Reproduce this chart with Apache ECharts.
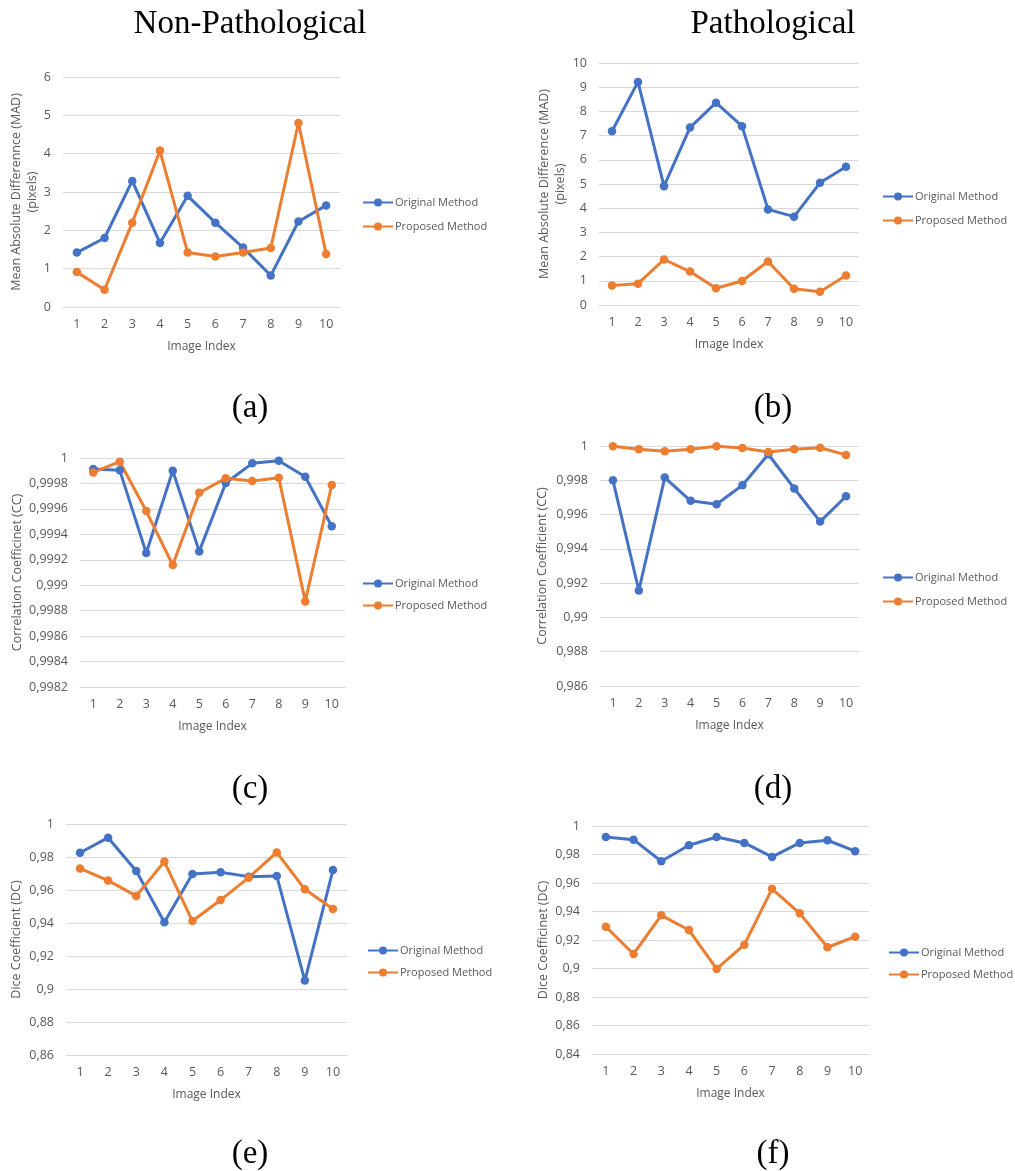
<!DOCTYPE html>
<html>
<head>
<meta charset="utf-8">
<script src="https://cdn.jsdelivr.net/npm/echarts@6/dist/echarts.min.js"></script>
<style>
html,body{margin:0;padding:0;background:#fff;}
#c{width:1015px;height:1171px;}
</style>
</head>
<body>
<div id="c"></div>
<script>
const categories = ['1','2','3','4','5','6','7','8','9','10'];
const seriesNames = ['Original Method', 'Proposed Method'];

// (a) Non-pathological MAD
const madNonOriginal = [1.42, 1.80, 3.29, 1.67, 2.90, 2.20, 1.55, 0.82, 2.23, 2.65];
const madNonProposed = [0.91, 0.45, 2.20, 4.08, 1.42, 1.32, 1.42, 1.54, 4.80, 1.38];
// (b) Pathological MAD
const madPathOriginal = [7.18, 9.22, 4.91, 7.33, 8.36, 7.39, 3.95, 3.65, 5.05, 5.71];
const madPathProposed = [0.81, 0.88, 1.88, 1.38, 0.69, 0.99, 1.80, 0.67, 0.55, 1.22];
// (c) Non-pathological CC
const ccNonOriginal = [0.999913, 0.999903, 0.999253, 0.999900, 0.999266, 0.999803, 0.999958, 0.999979, 0.999853, 0.999463];
const ccNonProposed = [0.999887, 0.999971, 0.999583, 0.999159, 0.999727, 0.999840, 0.999819, 0.999845, 0.998873, 0.999788];
// (d) Pathological CC
const ccPathOriginal = [0.99800, 0.99157, 0.99816, 0.99680, 0.99660, 0.99771, 0.99952, 0.99752, 0.99559, 0.99707];
const ccPathProposed = [0.99999, 0.99981, 0.99969, 0.99981, 0.99999, 0.99988, 0.99965, 0.99981, 0.99990, 0.99948];
// (e) Non-pathological DC
const dcNonOriginal = [0.9826, 0.9917, 0.9715, 0.9404, 0.9697, 0.9707, 0.9681, 0.9685, 0.9051, 0.9721];
const dcNonProposed = [0.9731, 0.9657, 0.9564, 0.9772, 0.9412, 0.9539, 0.9675, 0.9828, 0.9604, 0.9485];
// (f) Pathological DC
const dcPathOriginal = [0.9923, 0.9904, 0.9753, 0.9865, 0.9923, 0.9881, 0.9783, 0.9881, 0.9900, 0.9823];
const dcPathProposed = [0.9293, 0.9102, 0.9373, 0.9270, 0.8997, 0.9167, 0.9559, 0.9387, 0.9149, 0.9223];

const yAxisTitles = [
  'Mean Absolute Differennce (MAD)\n(pixels)',
  'Mean Absolute Difference (MAD)\n(pixels)',
  'Correlation Coefficinet (CC)',
  'Correlation Coefficient (CC)',
  'Dice Coefficient (DC)',
  'Dice Coefficinet (DC)'
];
const xAxisTitle = 'Image Index';
const columnTitles = ['Non-Pathological', 'Pathological'];
const panelLabels = ['(a)', '(b)', '(c)', '(d)', '(e)', '(f)'];

const panels = [
  {orig: madNonOriginal, prop: madNonProposed, min: 0, max: 6, interval: 1, dec: 0,
   grid: {left: 63, top: 77, width: 277, height: 230}, nameGap: 22, legend: {left: 362, top: 197, gap: 13}},
  {orig: madPathOriginal, prop: madPathProposed, min: 0, max: 10, interval: 1, dec: 0,
   grid: {left: 599, top: 63, width: 260, height: 242}, nameGap: 30, legend: {left: 882, top: 191, gap: 13}},
  {orig: ccNonOriginal, prop: ccNonProposed, min: 0.9982, max: 1, interval: 0.0002, dec: 4,
   grid: {left: 80, top: 458, width: 265, height: 229}, nameGap: 52, legend: {left: 362, top: 578, gap: 11}},
  {orig: ccPathOriginal, prop: ccPathProposed, min: 0.986, max: 1, interval: 0.002, dec: 3,
   grid: {left: 600, top: 446, width: 259, height: 240}, nameGap: 50, legend: {left: 882, top: 572, gap: 13}},
  {orig: dcNonOriginal, prop: dcNonProposed, min: 0.86, max: 1, interval: 0.02, dec: 2,
   grid: {left: 66, top: 824, width: 281, height: 231}, nameGap: 42, legend: {left: 367, top: 945, gap: 11}},
  {orig: dcPathOriginal, prop: dcPathProposed, min: 0.84, max: 1, interval: 0.02, dec: 2,
   grid: {left: 592, top: 826, width: 277, height: 228}, nameGap: 39, legend: {left: 888, top: 947, gap: 11}}
];

const BLUE = '#4472C4', ORANGE = '#ED7D31', TXT = '#595959', GRIDC = '#D9D9D9';
const FONT = '"Open Sans", "Liberation Sans", sans-serif';

const grids = [], xAxes = [], yAxes = [], series = [], legends = [];
panels.forEach((p, i) => {
  grids.push(Object.assign({containLabel: false}, p.grid));
  xAxes.push({
    type: 'category', gridIndex: i, data: categories, boundaryGap: true,
    name: xAxisTitle, nameLocation: 'middle', nameGap: 34,
    nameTextStyle: {color: TXT, fontSize: 12, fontFamily: FONT},
    axisLine: {show: true, lineStyle: {color: GRIDC, width: 1}},
    axisTick: {show: false},
    axisLabel: {color: TXT, fontSize: 12.5, fontFamily: FONT, margin: 11, interval: 0}
  });
  yAxes.push({
    type: 'value', gridIndex: i, min: p.min, max: p.max, interval: p.interval,
    name: yAxisTitles[i], nameLocation: 'middle', nameGap: p.nameGap, nameRotate: 90,
    nameTextStyle: {color: TXT, fontSize: 12.5, fontFamily: FONT, lineHeight: 16},
    axisLine: {show: false}, axisTick: {show: false},
    splitLine: {show: true, lineStyle: {color: GRIDC, width: 1}},
    axisLabel: {color: TXT, fontSize: 12.5, fontFamily: FONT, margin: 12,
      formatter: v => String(+(+v).toFixed(p.dec)).replace('.', ',')}
  });
  [[seriesNames[0], p.orig, BLUE], [seriesNames[1], p.prop, ORANGE]].forEach(([nm, d, col]) => {
    series.push({
      type: 'line', name: nm, xAxisIndex: i, yAxisIndex: i, data: d,
      symbol: 'circle', symbolSize: 8.5, showSymbol: true,
      lineStyle: {color: col, width: 3}, itemStyle: {color: col},
      emphasis: {disabled: true}, animation: false
    });
  });
  legends.push({
    orient: 'vertical', left: p.legend.left, top: p.legend.top, padding: 0,
    data: seriesNames, itemWidth: 30, itemHeight: 10, itemGap: p.legend.gap,
    textStyle: {color: TXT, fontSize: 11, fontFamily: FONT, padding: [0, 0, 0, -3]},
    selectedMode: false
  });
});

const SERIF = '"Liberation Serif", "DejaVu Serif", serif';
const graphics = [];
const colX = [250, 773];
columnTitles.forEach((t, k) => graphics.push({
  type: 'text', x: colX[k], y: 24,
  style: {text: t, font: '33px ' + SERIF, fill: '#000', textAlign: 'center', textVerticalAlign: 'middle'}
}));
const labelY = [408, 789, 1154];
panelLabels.forEach((t, k) => graphics.push({
  type: 'text', x: colX[k % 2], y: labelY[Math.floor(k / 2)],
  style: {text: t, font: '33px ' + SERIF, fill: '#000', textAlign: 'center', textVerticalAlign: 'middle'}
}));

const chart = echarts.init(document.getElementById('c'), null, {renderer: 'canvas'});
chart.setOption({
  backgroundColor: '#fff',
  animation: false,
  grid: grids, xAxis: xAxes, yAxis: yAxes, series: series, legend: legends,
  graphic: graphics
});
</script>
</body>
</html>
